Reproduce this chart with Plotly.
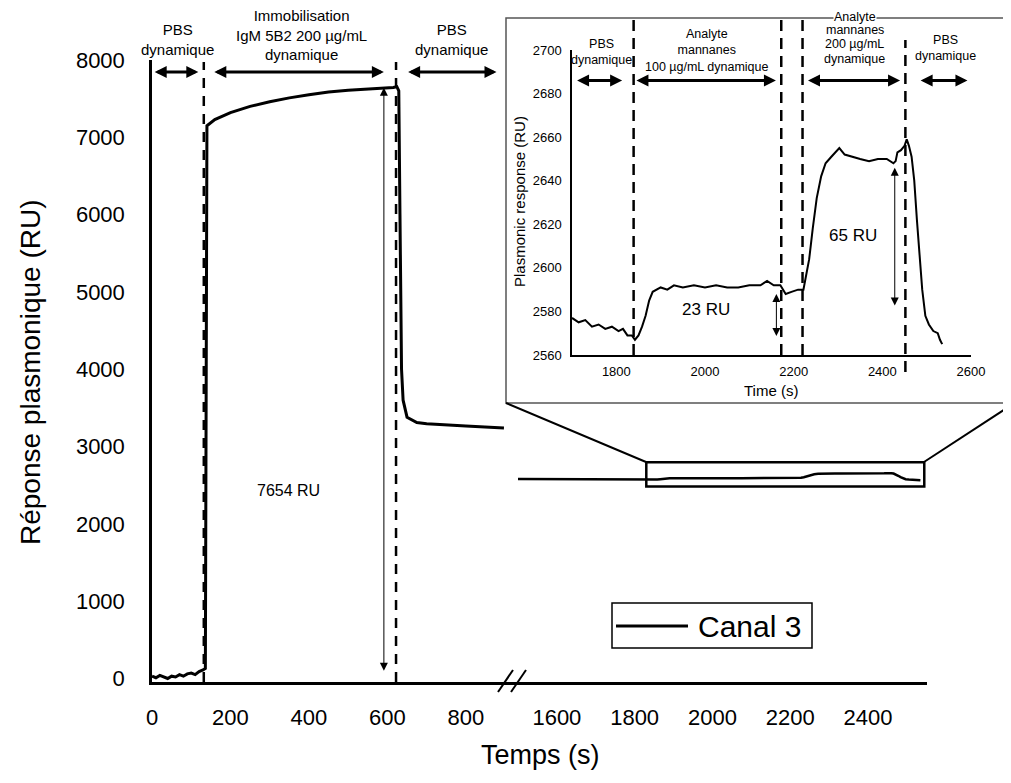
import plotly.graph_objects as go

# the page body has an 8 px margin, so the figure is drawn 8 px in from the corner
PAGE_OFF = 8
W, H = 1011 - 2 * PAGE_OFF, 783 - 2 * PAGE_OFF
FONT = 'Liberation Sans, Arial, sans-serif'


def px(x):
    # window pixel column -> paper x
    return (x - PAGE_OFF) / W


def py(y):
    # window pixel row -> paper y
    return 1 - (y - PAGE_OFF) / H


# ------------------------- data ------------------------- #
# left segment, 0 - 900 s
t_left = [0, 10, 20, 30, 40, 50, 60, 70, 80, 90, 100, 110, 120, 130, 136,
          140, 160, 200, 250, 300, 350, 400, 450, 500, 550, 600, 615, 624,
          629, 632, 636, 640, 650, 675, 700, 800, 897]
ru_left = [30, 10, 40, 20, 0, 30, 20, 50, 30, 60, 70, 50, 90, 110, 130,
           7150, 7230, 7320, 7400, 7460, 7510, 7550, 7585, 7610, 7625, 7635, 7645, 7655,
           7600, 6000, 4000, 3600, 3380, 3310, 3295, 3265, 3240]

# right segment before the zoomed window
t_right_pre = [1500, 1550, 1600, 1650]
ru_right_pre = [2582, 2580, 2581, 2579]

# zoomed window (inset)
t_zoom = [1700, 1715, 1730, 1745, 1760, 1775, 1790, 1805, 1815, 1825,
          1835, 1842, 1850, 1858, 1866, 1874, 1882, 1890, 1900, 1915,
          1930, 1950, 1975, 2000, 2025, 2050, 2075, 2100, 2125, 2140,
          2155, 2170, 2176, 2182, 2195, 2210, 2222, 2228, 2235, 2243,
          2252, 2262, 2272, 2285, 2297, 2303, 2315, 2330, 2350, 2370,
          2390, 2410, 2425, 2430, 2434, 2442, 2450, 2455, 2460, 2466,
          2472, 2478, 2484, 2490, 2497, 2505, 2515, 2525, 2530, 2535]
ru_zoom = [2577, 2575, 2576, 2573, 2574, 2572, 2573, 2571, 2572, 2569,
           2569, 2567, 2569, 2573, 2578, 2585, 2589, 2590, 2591, 2590,
           2592, 2591, 2592, 2591, 2592, 2591, 2591, 2592, 2592, 2594,
           2592, 2592, 2590, 2588, 2589, 2590, 2590, 2596, 2604, 2618,
           2632, 2642, 2648, 2651, 2654, 2655, 2652, 2651, 2650, 2649,
           2650, 2650, 2648, 2649, 2653, 2654, 2656, 2659, 2656, 2651,
           2640, 2622, 2604, 2590, 2578, 2574, 2571, 2570, 2567, 2565]

# event times (dashed lines)
main_events = [132, 622]
zoom_events = [1839, 2172, 2220, 2452]

x_ticks_left = [0, 200, 400, 600, 800]
x_ticks_right = [1600, 1800, 2000, 2200, 2400]
y_ticks_main = [0, 1000, 2000, 3000, 4000, 5000, 6000, 7000, 8000]
x_ticks_zoom = [1800, 2000, 2200, 2400, 2600]
y_ticks_zoom = [2560, 2580, 2600, 2620, 2640, 2660, 2680, 2700]

fig = go.Figure()

fig.add_trace(go.Scatter(x=t_left, y=ru_left, mode='lines', name='Canal 3',
                         line=dict(color='black', width=3),
                         xaxis='x', yaxis='y', showlegend=False))
fig.add_trace(go.Scatter(x=t_right_pre + t_zoom, y=ru_right_pre + ru_zoom,
                         mode='lines', line=dict(color='black', width=2.5),
                         xaxis='x2', yaxis='y', showlegend=False))
fig.add_trace(go.Scatter(x=t_zoom, y=ru_zoom, mode='lines',
                         line=dict(color='black', width=2),
                         xaxis='x3', yaxis='y3', showlegend=False))

axis_common = dict(showgrid=False, zeroline=False, showline=True,
                   linecolor='black', ticks='', fixedrange=True, automargin=False)

fig.update_layout(
    width=W, height=H,
    margin=dict(l=0, r=0, t=0, b=0, pad=0, autoexpand=False),
    paper_bgcolor='white', plot_bgcolor='rgba(0,0,0,0)',
    font=dict(family=FONT, color='black'),
    xaxis=dict(domain=[px(152), px(511)], range=[0, 915], tickvals=x_ticks_left,
               anchor='y', linewidth=2.5, tickfont=dict(size=22),
               ticklabelstandoff=14, **axis_common),
    xaxis2=dict(domain=[px(511), px(927)], range=[1482, 2552], tickvals=x_ticks_right,
                anchor='y', linewidth=2.5, tickfont=dict(size=22),
                ticklabelstandoff=14, **axis_common),
    yaxis=dict(domain=[py(682), py(60)], range=[-45, 8000], tickvals=y_ticks_main,
               anchor='x', linewidth=2.5, tickfont=dict(size=22),
               ticklabelstandoff=20, **axis_common),
    xaxis3=dict(domain=[px(572), px(971)], range=[1700, 2600], tickvals=x_ticks_zoom,
                anchor='y3', linewidth=1.5, tickfont=dict(size=13),
                ticklabelstandoff=4, **axis_common),
    yaxis3=dict(domain=[py(355), py(50)], range=[2560, 2700], tickvals=y_ticks_zoom,
                anchor='x3', linewidth=1.5, tickfont=dict(size=13),
                ticklabelstandoff=6, **axis_common),
)

shapes = []
# inset frame (white card)
shapes.append(dict(type='rect', xref='paper', yref='paper',
                   x0=px(506), x1=px(1010), y0=py(403), y1=py(18),
                   line=dict(color='#555555', width=1.5), fillcolor='white', layer='below'))
# zoom box on the main right segment and its connectors
shapes.append(dict(type='rect', xref='x2', yref='y', x0=1830, x1=2545, y0=2485, y1=2796,
                   line=dict(color='black', width=2.5)))
shapes.append(dict(type='line', xref='paper', yref='paper',
                   x0=px(646), y0=py(462), x1=px(506), y1=py(403),
                   line=dict(color='black', width=2)))
shapes.append(dict(type='line', xref='paper', yref='paper',
                   x0=px(924), y0=py(462), x1=px(1010), y1=py(406),
                   line=dict(color='black', width=2)))
# axis break marks
for x0 in (498, 511):
    shapes.append(dict(type='line', xref='paper', yref='paper',
                       x0=px(x0), y0=py(692), x1=px(x0 + 15), y1=py(670),
                       line=dict(color='black', width=2)))
# dashed event lines
for t in main_events:
    shapes.append(dict(type='line', xref='x', yref='paper', x0=t, x1=t,
                       y0=py(682), y1=py(62),
                       line=dict(color='black', width=2.5, dash='10px,8px')))
for t, top, bot in zip(zoom_events, [18, 18, 18, 40], [355, 355, 355, 372]):
    shapes.append(dict(type='line', xref='x3', yref='paper', x0=t, x1=t,
                       y0=py(bot), y1=py(top),
                       line=dict(color='black', width=2.5, dash='11px,7px')))
# legend drawn by hand
shapes.append(dict(type='rect', xref='paper', yref='paper',
                   x0=px(612), x1=px(812), y0=py(648), y1=py(603),
                   line=dict(color='black', width=1.5), fillcolor='white'))
shapes.append(dict(type='line', xref='paper', yref='paper',
                   x0=px(616), x1=px(688), y0=py(626), y1=py(626),
                   line=dict(color='black', width=3)))

annotations = []


def double_arrow(xref, yref, x0, y0, x1, y1, width, size):
    annotations.append(dict(xref=xref, yref=yref, axref=xref, ayref=yref,
                            x=x1, y=y1, ax=x0, ay=y0, text='', showarrow=True,
                            arrowside='end+start', arrowhead=2,
                            arrowwidth=width, arrowsize=size, arrowcolor='black'))


def label(text, x, y, size, xref='paper', yref='paper', angle=0, bg=None, xanchor='center'):
    annotations.append(dict(xref=xref, yref=yref, x=x, y=y, text=text, showarrow=False,
                            font=dict(size=size, family=FONT, color='black'),
                            textangle=angle, xanchor=xanchor, yanchor='middle',
                            bgcolor=bg, borderpad=0))


# main phase arrows and texts
double_arrow('x', 'y', 3, 7845, 118, 7845, 3, 0.8)
double_arrow('x', 'y', 155, 7845, 591, 7845, 3, 0.8)
double_arrow('x', 'y', 649, 7845, 878, 7845, 3, 0.8)
label('PBS<br>dynamique', 64, py(40), 15, xref='x')
label('Immobilisation<br>IgM 5B2 200 µg/mL<br>dynamique', 382, py(35), 15, xref='x')
label('PBS<br>dynamique', 764, py(40), 15, xref='x')
double_arrow('x', 'y', 591, 80, 591, 7640, 1, 1.6)
label('7654 RU', 349, 2434, 16, xref='x', yref='y')

# inset phase arrows and texts
double_arrow('x3', 'y3', 1708, 2686, 1813, 2686, 3, 0.8)
double_arrow('x3', 'y3', 1842, 2686, 2160, 2686, 3, 0.8)
double_arrow('x3', 'y3', 2229, 2686, 2440, 2686, 3, 0.8)
double_arrow('x3', 'y3', 2483, 2686, 2592, 2686, 3, 0.8)
label('PBS<br>dynamique', 1767, py(52), 12.5, xref='x3')
label('Analyte<br>mannanes<br>100 µg/mL dynamique', 2005, py(50), 12.5, xref='x3')
# 4-line label crossing the inset frame: one line per annotation for tight spacing,
# only the first line needs a white box to break the frame line
for line_text, y_line, bg in zip(['Analyte', 'mannanes', '200 µg/mL', 'dynamique'],
                                 [17, 30, 44, 59], ['white', None, None, None]):
    label(line_text, 2338, py(y_line), 12.5, xref='x3', bg=bg)
label('PBS<br>dynamique', 2542, py(48), 12.5, xref='x3')
double_arrow('x3', 'y3', 2161, 2568, 2161, 2588, 1, 1.6)
double_arrow('x3', 'y3', 2428, 2582, 2428, 2646, 1, 1.6)
label('23 RU', 2002, 2581, 17, xref='x3', yref='y3')
label('65 RU', 2334, 2615, 17, xref='x3', yref='y3')

# axis titles
label('Plasmonic response (RU)', px(519), py(202), 15, angle=-90)
label('Time (s)', px(771), py(390), 15)
label('Réponse plasmonique (RU)', px(30), py(372), 28, angle=-90)
label('Temps (s)', px(540), py(755), 27)

# legend text
label('Canal 3', px(697), py(626), 30, xanchor='left')

fig.update_layout(shapes=shapes, annotations=annotations)

fig.write_html('out.html')
